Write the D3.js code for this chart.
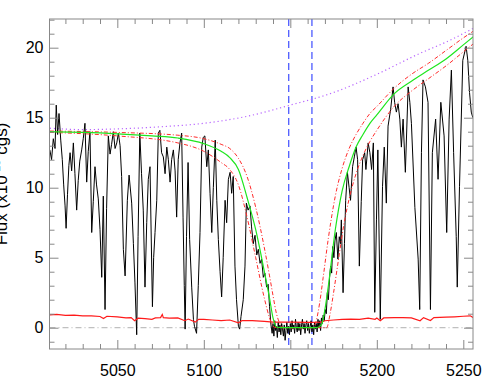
<!DOCTYPE html>
<html>
<head>
<meta charset="utf-8">
<script src="https://cdn.jsdelivr.net/npm/d3@7"></script>
<style>
  body { margin: 0; background: #fff; }
  text { font-family: "Liberation Sans", Arial, sans-serif; }
</style>
</head>
<body>
<div id="chart-area"></div>
<script>
// observed spectrum (wavelength, flux)
const specWave = [5011.0, 5012.0, 5013.0, 5014.0, 5014.7, 5015.5, 5016.3, 5017.3, 5018.2, 5019.0, 5019.8, 5020.4, 5021.2, 5022.0, 5022.7, 5023.6, 5024.6, 5025.5, 5026.5, 5027.4, 5028.3, 5029.4, 5030.3, 5031.3, 5032.3, 5033.2, 5034.2, 5035.2, 5036.1, 5037.1, 5038.0, 5039.0, 5040.0, 5041.0, 5041.9, 5042.9, 5043.8, 5044.8, 5045.8, 5046.7, 5047.7, 5048.7, 5049.7, 5050.6, 5051.6, 5052.5, 5053.5, 5054.5, 5055.8, 5056.8, 5058.3, 5059.3, 5060.2, 5061.2, 5062.0, 5063.0, 5064.0, 5065.0, 5066.0, 5067.0, 5067.9, 5068.9, 5070.3, 5071.0, 5071.8, 5072.8, 5073.7, 5074.6, 5075.6, 5076.6, 5077.6, 5078.6, 5079.5, 5080.5, 5081.4, 5082.4, 5083.4, 5084.3, 5085.2, 5086.2, 5087.2, 5088.0, 5088.7, 5089.2, 5090.0, 5090.9, 5091.8, 5093.0, 5094.0, 5094.6, 5095.8, 5096.8, 5097.8, 5098.8, 5099.7, 5100.6, 5101.7, 5102.6, 5103.6, 5104.6, 5105.5, 5106.6, 5107.5, 5108.4, 5109.4, 5110.3, 5111.2, 5112.3, 5113.2, 5114.2, 5115.2, 5116.1, 5117.0, 5118.0, 5118.9, 5120.0, 5120.7, 5121.5, 5122.8, 5123.8, 5124.6, 5125.6, 5126.7, 5127.6, 5128.6, 5129.6, 5130.6, 5131.5, 5132.5, 5133.4, 5134.4, 5135.3, 5136.3, 5137.2, 5138.0, 5138.8, 5139.5, 5140.0, 5140.5, 5141.0, 5141.5, 5142.0, 5142.5, 5143.0, 5143.5, 5144.0, 5144.5, 5145.0, 5145.5, 5146.0, 5146.5, 5147.0, 5147.5, 5148.0, 5148.5, 5149.0, 5149.5, 5150.0, 5150.5, 5151.0, 5151.5, 5152.0, 5152.5, 5153.0, 5153.5, 5154.0, 5154.5, 5155.0, 5155.5, 5156.0, 5156.5, 5157.0, 5157.5, 5158.0, 5158.5, 5159.0, 5159.5, 5160.0, 5160.5, 5161.0, 5161.5, 5162.0, 5162.5, 5163.0, 5163.5, 5164.0, 5164.5, 5165.0, 5165.5, 5166.0, 5166.5, 5167.0, 5167.5, 5168.0, 5168.5, 5169.0, 5169.6, 5170.2, 5170.8, 5171.4, 5172.0, 5172.7, 5173.3, 5173.9, 5174.5, 5175.2, 5175.8, 5176.6, 5177.5, 5178.3, 5179.0, 5179.5, 5180.5, 5181.3, 5182.0, 5183.0, 5184.0, 5184.8, 5186.0, 5187.0, 5188.0, 5188.9, 5189.9, 5191.0, 5191.8, 5193.0, 5193.7, 5195.0, 5196.0, 5197.0, 5198.0, 5198.8, 5199.8, 5200.6, 5202.0, 5203.3, 5204.3, 5205.5, 5206.5, 5208.0, 5209.4, 5210.3, 5211.3, 5212.3, 5213.3, 5214.2, 5215.2, 5216.5, 5218.1, 5219.1, 5220.0, 5222.0, 5223.9, 5224.8, 5225.8, 5226.7, 5228.1, 5229.6, 5231.0, 5232.1, 5234.0, 5235.4, 5237.0, 5238.9, 5240.4, 5241.8, 5243.1, 5244.4, 5245.9, 5246.5, 5247.8, 5249.7, 5251.6, 5252.6, 5253.6, 5254.6, 5255.5];
const specFlux = [12.7, 12.0, 13.5, 12.8, 15.9, 13.8, 15.3, 13.4, 12.0, 10.2, 8.7, 7.1, 9.5, 11.6, 12.5, 11.2, 13.2, 11.0, 8.4, 10.5, 11.9, 12.7, 13.5, 14.6, 10.4, 12.6, 14.0, 6.8, 9.0, 11.5, 10.2, 9.2, 7.0, 3.6, 9.4, 1.3, 8.5, 13.7, 12.4, 13.1, 14.0, 12.8, 13.2, 13.9, 13.0, 10.8, 5.6, 3.7, 9.1, 10.9, 8.9, 6.0, 3.2, -0.5, 6.5, 13.9, 11.0, 8.4, 2.9, 7.5, 10.6, 11.5, 1.5, 5.0, 6.8, 9.1, 13.9, 14.1, 12.5, 12.2, 11.0, 12.9, 12.0, 10.4, 12.0, 12.7, 11.2, 7.9, 12.0, 13.2, 13.9, 7.9, 3.0, -0.1, 6.5, 11.8, 6.3, 2.9, 0.6, 0.1, -0.4, 3.0, 6.8, 12.9, 13.6, 13.7, 11.5, 12.7, 9.6, 6.8, 10.0, 13.4, 9.1, 6.3, 4.0, 2.2, 5.0, 9.1, 7.5, 10.6, 11.1, 9.6, 10.8, 4.4, 2.0, 0.1, -0.1, 0.8, 2.0, 4.4, 8.9, 8.4, 8.7, 7.2, 6.0, 6.6, 5.2, 5.6, 4.6, 4.9, 3.6, 3.9, 2.9, 3.1, 1.5, 0.2, -0.4, 0.3, -0.6, 0.5, -0.2, 0.1, -0.7, 0.4, -0.3, 0.2, -0.5, 0.3, -0.1, -0.6, 0.2, -0.9, -0.2, 0.4, -0.4, 0.1, -0.5, 0.3, -0.3, 0.5, -0.1, 0.2, -0.4, 0.6, 0.0, -0.3, 0.4, -0.2, 0.3, -0.5, 0.2, 0.6, -0.1, 0.3, -0.4, 0.2, 0.5, -0.2, 0.3, -0.4, 0.1, 0.5, -0.3, 0.2, -0.5, 0.4, -0.1, 0.3, -0.3, 0.6, 0.0, 0.5, -0.2, 0.7, 0.3, 0.9, 0.5, 1.3, 1.0, 2.5, 2.0, 3.6, 4.4, 3.9, 5.8, 5.0, 6.2, 6.8, 4.9, 6.5, 6.0, 7.7, 2.5, 6.0, 9.1, 11.1, 10.0, 9.1, 11.5, 12.2, 12.9, 12.0, 4.4, 9.0, 12.0, 12.5, 11.3, 13.2, 12.5, 11.3, 13.2, 1.1, 7.7, 12.7, 0.6, 10.1, 12.9, 8.9, 14.4, 15.6, 17.2, 16.1, 15.4, 16.0, 14.9, 12.9, 14.9, 11.1, 17.2, 16.1, 14.6, 8.6, 4.9, 1.3, 12.5, 17.7, 17.2, 16.1, 1.3, 12.5, 14.9, 10.6, 16.1, 13.7, 6.8, 14.9, 18.4, 12.5, 6.5, 2.9, 10.1, 19.1, 20.1, 19.1, 16.8, 15.4, 15.0];

// error spectrum
const errWave = [5011, 5015, 5020, 5025, 5030, 5035, 5040, 5042, 5044, 5050, 5055, 5058, 5060, 5062, 5066, 5070, 5072, 5075, 5076, 5076.6, 5080, 5085, 5089, 5091, 5095, 5097, 5100, 5105, 5110, 5115, 5120, 5122, 5128, 5135, 5140, 5150, 5160, 5168, 5170, 5175, 5180, 5185, 5190, 5195, 5199, 5200, 5202, 5204, 5210, 5215, 5220, 5225, 5227, 5231, 5233, 5240, 5245, 5250, 5254, 5256];
const errFlux = [0.92, 0.95, 0.88, 0.9, 0.85, 0.85, 0.8, 0.65, 0.82, 0.78, 0.7, 0.72, 0.5, 0.68, 0.65, 0.6, 0.7, 0.72, 0.95, 0.72, 0.68, 0.7, 0.5, 0.62, 0.4, 0.6, 0.6, 0.55, 0.5, 0.55, 0.35, 0.5, 0.5, 0.45, 0.4, 0.4, 0.38, 0.4, 0.5, 0.55, 0.6, 0.62, 0.6, 0.68, 0.6, 0.7, 0.5, 0.7, 0.72, 0.72, 0.7, 0.5, 0.72, 0.52, 0.72, 0.75, 0.78, 0.82, 0.85, 0.7];

// model profile and its bounds
const modelWave = [5011, 5030, 5050, 5070, 5085, 5100, 5110, 5115, 5120, 5125, 5130, 5135, 5138, 5140, 5142, 5145, 5165, 5168, 5170, 5172, 5176, 5180, 5184, 5188, 5192, 5196, 5200, 5210, 5220, 5230, 5240, 5250, 5256];
const modelFlux = [14.0, 13.95, 13.85, 13.7, 13.55, 13.15, 12.6, 12.15, 11.3, 9.3, 7.0, 4.0, 2.1, 0.7, 0.05, 0.0, 0.0, 0.2, 1.3, 3.0, 7.0, 9.8, 11.5, 12.9, 13.8, 14.6, 15.2, 16.7, 17.6, 18.4, 19.2, 20.2, 20.8];
const hiWave = [5011, 5050, 5085, 5100, 5110, 5115, 5120, 5125, 5130, 5135, 5138, 5140, 5142, 5144, 5146, 5163, 5165, 5167, 5169, 5172, 5176, 5180, 5184, 5188, 5192, 5196, 5200, 5210, 5220, 5230, 5240, 5250, 5256];
const hiFlux = [14.05, 13.95, 13.75, 13.5, 13.1, 12.8, 12.1, 10.8, 8.6, 5.7, 3.7, 2.3, 1.0, 0.3, 0.0, 0.0, 0.5, 1.8, 3.6, 6.4, 9.4, 11.4, 12.8, 13.8, 14.6, 15.3, 15.8, 17.1, 18.1, 18.9, 19.8, 20.7, 21.2];
const loWave = [5011, 5050, 5085, 5100, 5110, 5115, 5120, 5125, 5130, 5135, 5138, 5140, 5142, 5171, 5173, 5175, 5178, 5181, 5184, 5188, 5192, 5196, 5200, 5210, 5220, 5230, 5240, 5250, 5256];
const loFlux = [13.95, 13.7, 13.2, 12.6, 11.8, 11.3, 10.2, 7.9, 5.0, 2.1, 0.7, 0.1, 0.0, 0.0, 1.0, 2.5, 5.0, 7.4, 9.2, 11.0, 12.3, 13.3, 14.1, 15.8, 16.9, 17.8, 18.7, 19.7, 20.3];

// continuum
const contWave = [5011, 5030, 5050, 5075, 5100, 5125, 5150, 5175, 5200, 5225, 5240, 5256];
const contFlux = [14.25, 14.15, 14.2, 14.35, 14.6, 15.1, 15.9, 16.8, 18.1, 19.6, 20.4, 21.4];

// marked wavelengths
const markWave = [5149.1, 5162.5];

const xTicks = [5050, 5100, 5150, 5200, 5250];
const yTicks = [0, 5, 10, 15, 20];

// chart size
const margin = {left: 49.5, right: 25, top: 19, bottom: 39};
const width = 498 - margin.left - margin.right;
const height = 388 - margin.top - margin.bottom;

let svg = d3.select('#chart-area')
  .append('svg')
  .attr('width', 498)
  .attr('height', 388);

let g = svg.append('g')
  .attr('transform', `translate(${margin.left}, ${margin.top})`);

const x = d3.scaleLinear().domain([5010.8, 5255.6]).range([0, width]);
const y = d3.scaleLinear().domain([-1.52, 22.05]).range([height, 0]);

g.append('clipPath').attr('id', 'clip')
  .append('rect').attr('width', width).attr('height', height);

const plot = g.append('g').attr('clip-path', 'url(#clip)');

const zip = (a, b) => a.map((d, i) => [d, b[i]]);
const line = d3.line().x(d => x(d[0])).y(d => y(d[1]));
const smooth = d3.line().x(d => x(d[0])).y(d => y(d[1])).curve(d3.curveMonotoneX);

// zero line
plot.append('line')
  .attr('x1', 0).attr('x2', width)
  .attr('y1', y(0)).attr('y2', y(0))
  .attr('stroke', '#b0b0b0')
  .attr('stroke-dasharray', '6,3,1,3');

// blue markers
plot.selectAll('.mark').data(markWave).enter()
  .append('line')
  .attr('class', 'mark')
  .attr('x1', d => x(d)).attr('x2', d => x(d))
  .attr('y1', 0).attr('y2', height)
  .attr('stroke', '#2b3cff')
  .attr('stroke-width', 1.1)
  .attr('stroke-dasharray', '7,4');

// continuum
plot.append('path')
  .attr('d', smooth(zip(contWave, contFlux)))
  .attr('fill', 'none')
  .attr('stroke', '#b866ff')
  .attr('stroke-width', 1.2)
  .attr('stroke-dasharray', '1.2,2.8');

// spectrum
plot.append('path')
  .attr('d', line(zip(specWave, specFlux)))
  .attr('fill', 'none')
  .attr('stroke', '#000')
  .attr('stroke-width', 1);

// error
plot.append('path')
  .attr('d', line(zip(errWave, errFlux)))
  .attr('fill', 'none')
  .attr('stroke', '#ff1a1a')
  .attr('stroke-width', 1.2);

// model bounds
[zip(hiWave, hiFlux), zip(loWave, loFlux)].forEach(pts => {
  plot.append('path')
    .attr('d', smooth(pts))
    .attr('fill', 'none')
    .attr('stroke', '#ff2a2a')
    .attr('stroke-width', 1)
    .attr('stroke-dasharray', '4,2,1,2');
});

// model
plot.append('path')
  .attr('d', smooth(zip(modelWave, modelFlux)))
  .attr('fill', 'none')
  .attr('stroke', '#1ee61e')
  .attr('stroke-width', 1.2);

// axes: ticks point inward on all four sides
const xMinor = d3.range(5020, 5256, 10).filter(v => v % 50 !== 0);
const yMinor = d3.range(-1, 23, 1).filter(v => v % 5 !== 0);

function drawAxis(axisFn, scale, major, minor, transform, labels) {
  const ax = g.append('g').attr('transform', transform);
  ax.call(axisFn(scale).tickValues(major).tickSize(-9).tickSizeOuter(0)
    .tickPadding(labels ? labels : 0).tickFormat(labels ? d3.format('d') : ''));
  ax.append('g').call(axisFn(scale).tickValues(minor).tickSize(-5).tickSizeOuter(0).tickFormat(''))
    .select('.domain').remove();
  ax.select('.domain').remove();
  ax.selectAll('line').attr('stroke', '#888');
  ax.selectAll('text')
    .attr('fill', '#000')
    .style('font-size', '16px')
    .style('font-family', '"Liberation Sans", Arial, sans-serif');
  return ax;
}

drawAxis(d3.axisBottom, x, xTicks, xMinor, `translate(0, ${height})`, 15.5);
drawAxis(d3.axisTop, x, xTicks, xMinor, 'translate(0, 0)', 0);
drawAxis(d3.axisLeft, y, yTicks, yMinor, 'translate(0, 0)', 6);
drawAxis(d3.axisRight, y, yTicks, yMinor, `translate(${width}, 0)`, 0);

// frame
g.append('rect')
  .attr('width', width).attr('height', height)
  .attr('fill', 'none')
  .attr('stroke', '#888');

// Y label
const yl = svg.append('text')
  .attr('transform', `translate(7, ${margin.top + height / 2}) rotate(-90)`)
  .attr('text-anchor', 'middle')
  .attr('font-size', '17px')
  .attr('fill', '#000');
yl.append('tspan').text('Flux (x10');
yl.append('tspan').attr('dy', -7).attr('font-size', '11px').text('-15');
yl.append('tspan').attr('dy', 7).text(' cgs)');
</script>
</body>
</html>
